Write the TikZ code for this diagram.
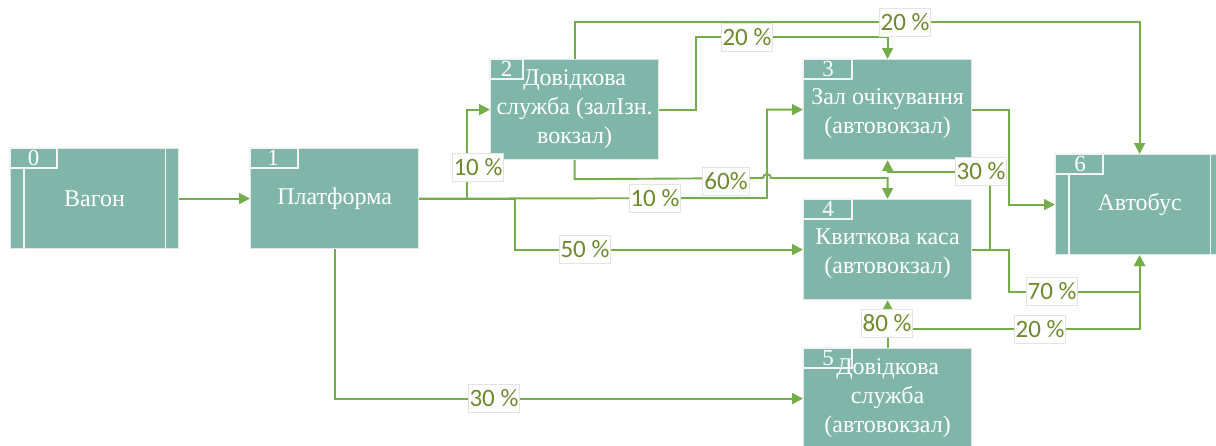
\documentclass[tikz,border=0pt]{standalone}
\usepackage{fontspec}
\setmainfont{Liberation Serif}
\newfontfamily\boxfont{Liberation Serif}
\newfontfamily\lblfont{Carlito}
\usetikzlibrary{arrows.meta,calc}

\definecolor{boxfill}{HTML}{80B6A9}
\definecolor{boxedge}{HTML}{E2E6E4}
\definecolor{tabline}{HTML}{F2F5F4}
\definecolor{flowgreen}{HTML}{74AE4A}
\definecolor{lbltext}{HTML}{6F8A2E}
\definecolor{lbledge}{HTML}{E3E3E3}

\tikzset{
  stage/.style={draw=boxedge, line width=1.2pt, fill=boxfill,
    minimum width=168, minimum height=100, inner sep=0pt,
    text=white, font=\boxfont\fontsize{24}{29}\selectfont, align=center},
  tabbox/.style={draw=tabline, line width=1.2pt},
  sideline/.style={draw=tabline, line width=1.2pt},
  num/.style={text=white, font=\boxfont\fontsize{23}{23}\selectfont, inner sep=0pt},
  flow/.style={draw=flowgreen, line width=1.9pt,
    -{Triangle[length=11pt,width=11pt]}},
  lbl/.style={fill=white, draw=lbledge, line width=0.9pt, text=lbltext,
    font=\lblfont\fontsize{25}{25}\selectfont,
    inner xsep=1.5pt, inner ysep=0pt, minimum height=28},
}

\begin{document}
\begin{tikzpicture}[x=1pt, y=-1pt]
\useasboundingbox (0,0) rectangle (1216,445);
\clip (0,0) rectangle (1216,445);

% process stages
\node[stage, anchor=north west] (b0) at (10,148) {Вагон};
\node[stage, anchor=north west] (b1) at (250,148) {Платформа};
\node[stage, anchor=north west] (b2) at (490,59) {Довідкова\\служба (залІзн.\\вокзал)};
\node[stage, anchor=north west] (b3) at (803,59) {\\[-6pt]Зал очікування\\(автовокзал)};
\node[stage, anchor=north west] (b4) at (803,199) {\\[-6pt]Квиткова каса\\(автовокзал)};
\node[stage, anchor=north west] (b5) at (803,348) {Довідкова\\служба\\(автовокзал)};
\node[stage, anchor=north west] (b6) at (1055,154) {Автобус};

% number tabs
\draw[tabbox] (b0.north west) rectangle ++(47,20);
\draw[tabbox] (b1.north west) rectangle ++(48,20);
\draw[tabbox] (b2.north west) rectangle ++(33,20);
\draw[tabbox] (b3.north west) rectangle ++(49,20);
\draw[tabbox] (b4.north west) rectangle ++(49,20);
\draw[tabbox] (b5.north west) rectangle ++(49,20);
\draw[tabbox] (b6.north west) rectangle ++(48,20);
\node[num] (n0) at ($(b0.north west)+(23.5,10)$) {0};
\node[num] (n1) at ($(b1.north west)+(23,10)$) {1};
\node[num] (n2) at ($(b2.north west)+(16.5,10)$) {2};
\node[num] (n3) at ($(b3.north west)+(25,10)$) {3};
\node[num] (n4) at ($(b4.north west)+(25,10)$) {4};
\node[num] (n5) at ($(b5.north west)+(25,10)$) {5};
\node[num] (n6) at ($(b6.north west)+(25,10)$) {6};

% side bars of the terminal stages
\draw[sideline] ($(b0.north west)+(14,20)$) -- ($(b0.south west)+(14,0)$);
\draw[sideline] ($(b0.north east)+(-14,0)$) -- ($(b0.south east)+(-14,0)$);
\draw[sideline] ($(b6.north west)+(14,20)$) -- ($(b6.south west)+(14,0)$);
\draw[sideline] ($(b6.north east)+(-14,0)$) -- ($(b6.south east)+(-14,0)$);

% flows
\draw[flow] (b0.east) -- (b1.west);
\draw[flow] (b1.east) -- ++(48,0) |- (b2.west);
\draw[flow] (b1.east) -- (767,198) |- (b3.west);
\draw[flow] (b1.east) -- ++(96,0) |- (b4.west);
\draw[flow] (b1.south) |- (b5.west);
\draw[flow] (b2.north) -- ++(0,-37) -| (b6.north);
\draw[flow] (b2.east) -- ++(37,0) |- ($(b3.north)+(0,-22)$) -- (b3.north);
\draw[flow] (b2.south) -- ++(0,19) -- (763,178)
  arc[start angle=180, end angle=360, radius=4] -| (b4.north);
\draw[flow] (b4.east) -- ++(18,0) |- ($(b3.south)+(0,12)$) -- (b3.south);
\draw[flow] (b3.east) -- ++(37,0) |- (b6.west);
\draw[flow] (b4.east) -- ++(37,0) |- ($(b6.south)+(0,37)$) -- (b6.south);
\draw[flow] (b5.north) -- (b4.south);
\draw[flow] (b5.north) -- ++(0,-19) -| (b6.south);

% shares
\node[lbl] (l1) at (478,167) {10 \%};
\node[lbl] (l2) at (655,198) {10 \%};
\node[lbl] (l3) at (585,249) {50 \%};
\node[lbl] (l4) at (494,398) {30 \%};
\node[lbl] (l5) at (905,22) {20 \%};
\node[lbl] (l6) at (747,37) {20 \%};
\node[lbl] (l7) at (726,181) {60\%};
\node[lbl] (l8) at (981,171) {30 \%};
\node[lbl] (l9) at (1052,291) {70 \%};
\node[lbl] (l10) at (887,323) {80 \%};
\node[lbl] (l11) at (1040,329) {20 \%};
\end{tikzpicture}
\end{document}
